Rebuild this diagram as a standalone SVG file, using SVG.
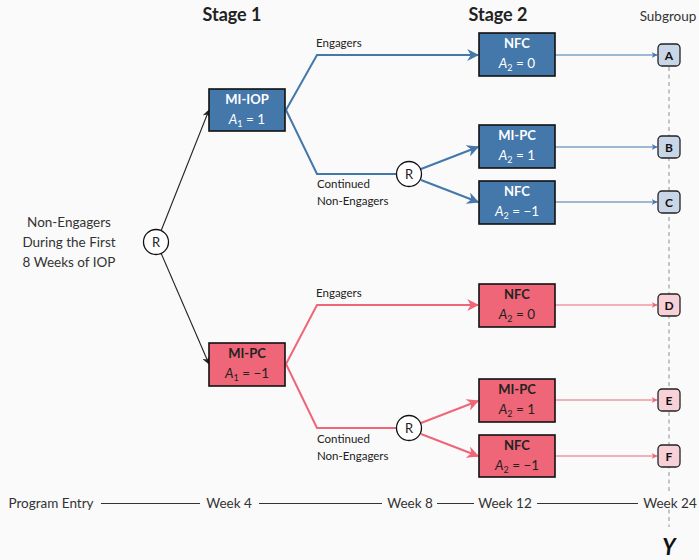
<svg xmlns="http://www.w3.org/2000/svg" width="699" height="560" viewBox="0 0 699 560">
  <defs>
    <style>
      text { font-family: Lato, "Open Sans", "Liberation Sans", sans-serif; fill: #222; }
      .head { font-size: 18px; font-weight: bold; }
      .sub { font-size: 13.5px; fill: #333; }
      .lbl { font-size: 11.5px; }
      .left { font-size: 13.5px; fill: #333; text-anchor: middle; }
      .tl { font-size: 13.5px; fill: #333; }
      .bname { font-size: 13px; font-weight: bold; text-anchor: middle; }
      .bmath { font-size: 13.5px; text-anchor: middle; }
      .white { fill: #fff; }
      .boxB { fill: #4477aa; stroke: #111; stroke-width: 1.6; }
      .boxP { fill: #ee6677; stroke: #111; stroke-width: 1.6; }
      .sgB { fill: #c8d6e8; stroke: #222; stroke-width: 1.3; }
      .sgP { fill: #f8d0d8; stroke: #222; stroke-width: 1.3; }
      .sgt { font-size: 12px; font-weight: bold; text-anchor: middle; fill: #111; }
      .rnd { fill: #fff; stroke: #111; stroke-width: 1.3; }
      .rt { font-size: 13px; text-anchor: middle; }
      .cB { fill: none; stroke: #4477aa; stroke-width: 2; }
      .cP { fill: none; stroke: #ee6677; stroke-width: 2; }
      .tB { fill: none; stroke: #4477aa; stroke-width: 1.2; }
      .tP { fill: none; stroke: #ee6677; stroke-width: 1.2; }
      .cK { fill: none; stroke: #222; stroke-width: 1.1; }
      .axis { stroke: #333; stroke-width: 1; }
    </style>
    <marker id="arB" viewBox="0 0 10 10" refX="9" refY="5" markerWidth="6" markerHeight="6" orient="auto" markerUnits="userSpaceOnUse">
      <path d="M0,0 L10,5 L0,10 L3,5 z" fill="#4477aa"/>
    </marker>
    <marker id="arP" viewBox="0 0 10 10" refX="9" refY="5" markerWidth="6" markerHeight="6" orient="auto" markerUnits="userSpaceOnUse">
      <path d="M0,0 L10,5 L0,10 L3,5 z" fill="#ee6677"/>
    </marker>
    <marker id="arBL" viewBox="0 0 10 10" refX="9" refY="5" markerWidth="12" markerHeight="12" orient="auto" markerUnits="userSpaceOnUse">
      <path d="M0,0 L10,5 L0,10 L3,5 z" fill="#4477aa"/>
    </marker>
    <marker id="arPL" viewBox="0 0 10 10" refX="9" refY="5" markerWidth="12" markerHeight="12" orient="auto" markerUnits="userSpaceOnUse">
      <path d="M0,0 L10,5 L0,10 L3,5 z" fill="#ee6677"/>
    </marker>
    <marker id="arK" viewBox="0 0 10 10" refX="9" refY="5" markerWidth="8" markerHeight="8" orient="auto" markerUnits="userSpaceOnUse">
      <path d="M0,0 L10,5 L0,10 L3,5 z" fill="#222"/>
    </marker>
  </defs>

  <rect width="699" height="560" fill="#fafafa"/>

  <!-- headings -->
  <text class="head" x="232" y="21" text-anchor="middle">Stage 1</text>
  <text class="head" x="498" y="21" text-anchor="middle">Stage 2</text>
  <text class="sub" x="668" y="21" text-anchor="middle">Subgroup</text>

  <!-- outcome axis -->
  <line x1="669" y1="67" x2="669" y2="527" stroke="#999" stroke-width="1.1" stroke-dasharray="4 3.5"/>
  <text x="669" y="555" text-anchor="middle" style="font-size:22px;font-weight:bold;font-style:italic;fill:#111">Y</text>

  <!-- timeline -->
  <g id="timeline">
    <line class="axis" x1="101" y1="503.5" x2="200" y2="503.5"/>
    <line class="axis" x1="259" y1="503.5" x2="382" y2="503.5"/>
    <line class="axis" x1="437" y1="503.5" x2="474" y2="503.5"/>
    <line class="axis" x1="537" y1="503.5" x2="638" y2="503.5"/>
    <rect x="641" y="492" width="56" height="16" fill="#fafafa"/>
    <text class="tl" x="51" y="508" text-anchor="middle">Program Entry</text>
    <text class="tl" x="229" y="508" text-anchor="middle">Week 4</text>
    <text class="tl" x="410" y="508" text-anchor="middle">Week 8</text>
    <text class="tl" x="505" y="508" text-anchor="middle">Week 12</text>
    <text class="tl" x="670" y="508" text-anchor="middle">Week 24</text>
  </g>

  <!-- population label -->
  <g id="population">
    <text class="left" x="69" y="227">Non-Engagers</text>
    <text class="left" x="69" y="247">During the First</text>
    <text class="left" x="69" y="267">8 Weeks of IOP</text>
  </g>

  <!-- connectors -->
  <g id="connectors">
    <line class="cK" x1="161" y1="231" x2="209" y2="110" marker-end="url(#arK)"/>
    <line class="cK" x1="161" y1="253" x2="209" y2="364" marker-end="url(#arK)"/>

    <polyline class="cB" points="286,110 317,55 478,55" marker-end="url(#arBL)"/>
    <polyline class="cB" points="286,110 317,174 397,174"/>
    <line class="cB" x1="421" y1="169" x2="478" y2="147" marker-end="url(#arBL)"/>
    <line class="cB" x1="421" y1="180" x2="478" y2="202" marker-end="url(#arBL)"/>

    <polyline class="cP" points="286,364 317,305 478,305" marker-end="url(#arPL)"/>
    <polyline class="cP" points="286,364 317,428 397,428"/>
    <line class="cP" x1="421" y1="423" x2="478" y2="401" marker-end="url(#arPL)"/>
    <line class="cP" x1="421" y1="434" x2="478" y2="456" marker-end="url(#arPL)"/>

    <line class="tB" x1="555" y1="55" x2="657" y2="55" marker-end="url(#arB)"/>
    <line class="tB" x1="555" y1="147" x2="657" y2="147" marker-end="url(#arB)"/>
    <line class="tB" x1="555" y1="202" x2="657" y2="202" marker-end="url(#arB)"/>
    <line class="tP" x1="555" y1="305" x2="657" y2="305" marker-end="url(#arP)"/>
    <line class="tP" x1="555" y1="400" x2="657" y2="400" marker-end="url(#arP)"/>
    <line class="tP" x1="555" y1="456" x2="657" y2="456" marker-end="url(#arP)"/>

    <text class="lbl" x="316" y="47">Engagers</text>
    <text class="lbl" x="317" y="188">Continued</text>
    <text class="lbl" x="317" y="205">Non-Engagers</text>
    <text class="lbl" x="316" y="297">Engagers</text>
    <text class="lbl" x="317" y="443">Continued</text>
    <text class="lbl" x="317" y="460">Non-Engagers</text>
  </g>

  <!-- randomisation points -->
  <g id="r0"><circle class="rnd" cx="156" cy="242" r="12.5"/><text class="rt" x="156" y="246.5">R</text></g>
  <g id="r1"><circle class="rnd" cx="409" cy="174" r="12.5"/><text class="rt" x="409" y="178.5">R</text></g>
  <g id="r2"><circle class="rnd" cx="409" cy="428" r="12.5"/><text class="rt" x="409" y="432.5">R</text></g>

  <!-- stage 1 -->
  <g id="mi-iop">
    <rect class="boxB" x="209" y="89" width="76" height="42"/>
    <text class="bname white" x="247" y="104">MI-IOP</text>
    <text class="bmath white" x="247" y="124"><tspan font-style="italic">A</tspan><tspan font-size="9" dy="3">1</tspan><tspan dy="-3"> = 1</tspan></text>
  </g>
  <g id="mi-pc-1">
    <rect class="boxP" x="209" y="343" width="76" height="43"/>
    <text class="bname" x="247" y="358">MI-PC</text>
    <text class="bmath" x="247" y="378"><tspan font-style="italic">A</tspan><tspan font-size="9" dy="3">1</tspan><tspan dy="-3"> = −1</tspan></text>
  </g>

  <!-- stage 2, blue arm -->
  <g id="nfc-a">
    <rect class="boxB" x="479" y="33" width="76" height="43"/>
    <text class="bname white" x="517" y="48">NFC</text>
    <text class="bmath white" x="517" y="68"><tspan font-style="italic">A</tspan><tspan font-size="9" dy="3">2</tspan><tspan dy="-3"> = 0</tspan></text>
  </g>
  <g id="mi-pc-b">
    <rect class="boxB" x="479" y="125" width="76" height="43"/>
    <text class="bname white" x="517" y="140">MI-PC</text>
    <text class="bmath white" x="517" y="160"><tspan font-style="italic">A</tspan><tspan font-size="9" dy="3">2</tspan><tspan dy="-3"> = 1</tspan></text>
  </g>
  <g id="nfc-c">
    <rect class="boxB" x="479" y="181" width="76" height="43"/>
    <text class="bname white" x="517" y="196">NFC</text>
    <text class="bmath white" x="517" y="216"><tspan font-style="italic">A</tspan><tspan font-size="9" dy="3">2</tspan><tspan dy="-3"> = −1</tspan></text>
  </g>

  <!-- stage 2, pink arm -->
  <g id="nfc-d">
    <rect class="boxP" x="479" y="284" width="76" height="43"/>
    <text class="bname" x="517" y="299">NFC</text>
    <text class="bmath" x="517" y="319"><tspan font-style="italic">A</tspan><tspan font-size="9" dy="3">2</tspan><tspan dy="-3"> = 0</tspan></text>
  </g>
  <g id="mi-pc-e">
    <rect class="boxP" x="479" y="379" width="76" height="43"/>
    <text class="bname" x="517" y="394">MI-PC</text>
    <text class="bmath" x="517" y="414"><tspan font-style="italic">A</tspan><tspan font-size="9" dy="3">2</tspan><tspan dy="-3"> = 1</tspan></text>
  </g>
  <g id="nfc-f">
    <rect class="boxP" x="479" y="435" width="76" height="42"/>
    <text class="bname" x="517" y="450">NFC</text>
    <text class="bmath" x="517" y="470"><tspan font-style="italic">A</tspan><tspan font-size="9" dy="3">2</tspan><tspan dy="-3"> = −1</tspan></text>
  </g>

  <!-- subgroups -->
  <g id="sg-a"><rect class="sgB" x="658" y="44" width="22" height="22" rx="4"/><text class="sgt" x="669" y="59.5">A</text></g>
  <g id="sg-b"><rect class="sgB" x="658" y="136" width="22" height="22" rx="4"/><text class="sgt" x="669" y="151.5">B</text></g>
  <g id="sg-c"><rect class="sgB" x="658" y="191" width="22" height="22" rx="4"/><text class="sgt" x="669" y="206.5">C</text></g>
  <g id="sg-d"><rect class="sgP" x="658" y="294" width="22" height="22" rx="4"/><text class="sgt" x="669" y="309.5">D</text></g>
  <g id="sg-e"><rect class="sgP" x="658" y="389" width="22" height="22" rx="4"/><text class="sgt" x="669" y="404.5">E</text></g>
  <g id="sg-f"><rect class="sgP" x="658" y="445" width="22" height="22" rx="4"/><text class="sgt" x="669" y="460.5">F</text></g>
</svg>
